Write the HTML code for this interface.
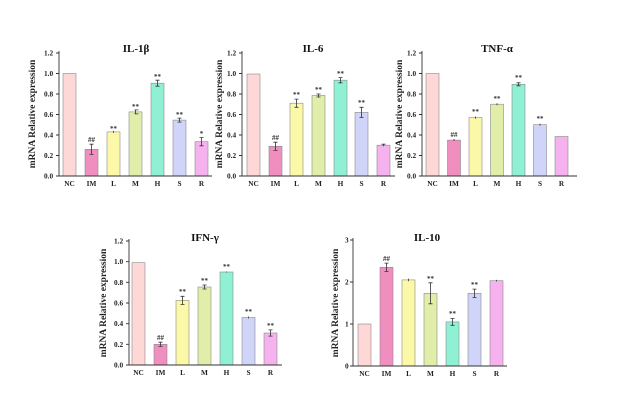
<!DOCTYPE html>
<html><head><meta charset="utf-8"><style>
html,body{margin:0;padding:0;background:#fff;}
svg{display:block;font-family:"Liberation Serif",serif;font-weight:bold;}
.t{font-size:7.3px;fill:#222}
.c{font-size:7.3px;fill:#222;text-anchor:middle}
.ti{font-size:11px;fill:#111;text-anchor:middle}
.yl{font-size:9.5px;fill:#222;text-anchor:middle}
.m{font-size:7px;fill:#333;text-anchor:middle}
.ax{stroke:#333;stroke-width:0.9;fill:none}
.b{stroke:#8a8a8a;stroke-width:0.6}
.e{stroke:#333;stroke-width:0.8}
</style></head><body>
<svg width="624" height="404" viewBox="0 0 624 404">
<!-- Chart 1 IL-1β -->
<text class="ti" x="136" y="52">IL-1β</text>
<text class="yl" transform="translate(35,114) rotate(-90)">mRNA Relative expression</text>
<rect class="b" x="63" y="73.5" width="13" height="102.5" fill="#fdd8d6"/>
<rect class="b" x="85" y="149.3" width="13" height="26.7" fill="#f08ec0"/>
<rect class="b" x="107" y="131.9" width="13" height="44.1" fill="#fbf8a8"/>
<rect class="b" x="129" y="111.9" width="13" height="64.1" fill="#e1eeaa"/>
<rect class="b" x="151" y="83.2" width="13" height="92.8" fill="#8ff0d4"/>
<rect class="b" x="173" y="120.1" width="13" height="55.9" fill="#cfd4f8"/>
<rect class="b" x="195" y="141.7" width="13" height="34.3" fill="#f6b2ee"/>
<path class="e" d="M91.5 144.2V154.4M89.5 144.2h4M89.5 154.4h4M113.5 130.9V132.9M134.5 109.9h4M135.5 109.9V113.9M134.5 113.9h4M157.5 80.2V86.2M155.5 80.2h4M155.5 86.2h4M179.5 118.1V122.1M177.5 118.1h4M177.5 122.1h4M201.5 137.6V145.8M199.5 137.6h4M199.5 145.8h4"/>
<text class="m" x="91.5" y="142">##</text><text class="m" x="113.5" y="131">**</text><text class="m" x="135.5" y="109">**</text><text class="m" x="157.5" y="79">**</text><text class="m" x="179.5" y="117">**</text><text class="m" x="201.5" y="136">*</text>
<path class="ax" d="M59 51V176H212"/>
<path class="ax" d="M56 176h3M56 155.5h3M56 135h3M56 114.5h3M56 94h3M56 73.5h3M56 53h3"/>
<text class="t" x="44" y="178.5">0.0</text><text class="t" x="44" y="158">0.2</text><text class="t" x="44" y="137.5">0.4</text><text class="t" x="44" y="117">0.6</text><text class="t" x="44" y="96.5">0.8</text><text class="t" x="44" y="76">1.0</text><text class="t" x="44" y="55.5">1.2</text>
<text class="c" x="69.5" y="186">NC</text><text class="c" x="91.5" y="186">IM</text><text class="c" x="113.5" y="186">L</text><text class="c" x="135.5" y="186">M</text><text class="c" x="157.5" y="186">H</text><text class="c" x="179.5" y="186">S</text><text class="c" x="201.5" y="186">R</text>

<!-- Chart 2 IL-6 -->
<text class="ti" x="313" y="52">IL-6</text>
<text class="yl" transform="translate(222,114) rotate(-90)">mRNA Relative expression</text>
<rect class="b" x="247" y="74" width="13" height="102" fill="#fdd8d6"/>
<rect class="b" x="269" y="146.3" width="13" height="29.7" fill="#f08ec0"/>
<rect class="b" x="290" y="103.2" width="13" height="72.8" fill="#fbf8a8"/>
<rect class="b" x="312" y="95.5" width="13" height="80.5" fill="#e1eeaa"/>
<rect class="b" x="334" y="80.2" width="13" height="95.8" fill="#8ff0d4"/>
<rect class="b" x="355" y="112.4" width="13" height="63.6" fill="#cfd4f8"/>
<rect class="b" x="377" y="145.2" width="13" height="30.8" fill="#f6b2ee"/>
<path class="e" d="M275.5 142.2V150.4M273.5 142.2h4M273.5 150.4h4M296.5 99.1V107.3M294.5 99.1h4M294.5 107.3h4M318.5 94V97M316.5 94h4M316.5 97h4M340.5 77.6V82.8M338.5 77.6h4M338.5 82.8h4M361.5 107.3V117.5M359.5 107.3h4M359.5 117.5h4M383.5 144.2V146.2M381.5 144.2h4"/>
<text class="m" x="275.5" y="140">##</text><text class="m" x="296.5" y="97">**</text><text class="m" x="318.5" y="92">**</text><text class="m" x="340.5" y="76">**</text><text class="m" x="361.5" y="105">**</text>
<path class="ax" d="M242 51V176H395"/>
<path class="ax" d="M239 176h3M239 155.5h3M239 135h3M239 114.5h3M239 94h3M239 73.5h3M239 53h3"/>
<text class="t" x="227" y="178.5">0.0</text><text class="t" x="227" y="158">0.2</text><text class="t" x="227" y="137.5">0.4</text><text class="t" x="227" y="117">0.6</text><text class="t" x="227" y="96.5">0.8</text><text class="t" x="227" y="76">1.0</text><text class="t" x="227" y="55.5">1.2</text>
<text class="c" x="253.5" y="186">NC</text><text class="c" x="275.5" y="186">IM</text><text class="c" x="296.5" y="186">L</text><text class="c" x="318.5" y="186">M</text><text class="c" x="340.5" y="186">H</text><text class="c" x="361.5" y="186">S</text><text class="c" x="383.5" y="186">R</text>

<!-- Chart 3 TNF-α -->
<text class="ti" x="497" y="52">TNF-α</text>
<text class="yl" transform="translate(402,114) rotate(-90)">mRNA Relative expression</text>
<rect class="b" x="426" y="73.5" width="13" height="102.5" fill="#fdd8d6"/>
<rect class="b" x="447.5" y="140.1" width="13" height="35.9" fill="#f08ec0"/>
<rect class="b" x="469" y="117.6" width="13" height="58.4" fill="#fbf8a8"/>
<rect class="b" x="490.5" y="104.2" width="13" height="71.8" fill="#e1eeaa"/>
<rect class="b" x="512" y="84.3" width="13" height="91.7" fill="#8ff0d4"/>
<rect class="b" x="533.5" y="124.7" width="13" height="51.3" fill="#cfd4f8"/>
<rect class="b" x="555" y="136.5" width="13" height="39.5" fill="#f6b2ee"/>
<path class="e" d="M454 139V141M475.5 116.5V118.7M497 103.2V105.2M518.5 82.8V85.8M516.5 82.8h4M516.5 85.8h4M540 123.7V125.7"/>
<text class="m" x="454" y="137">##</text><text class="m" x="475.5" y="114">**</text><text class="m" x="497" y="101">**</text><text class="m" x="518.5" y="80">**</text><text class="m" x="540" y="121">**</text>
<path class="ax" d="M422 51V176H577"/>
<path class="ax" d="M419 176h3M419 155.5h3M419 135h3M419 114.5h3M419 94h3M419 73.5h3M419 53h3"/>
<text class="t" x="407" y="178.5">0.0</text><text class="t" x="407" y="158">0.2</text><text class="t" x="407" y="137.5">0.4</text><text class="t" x="407" y="117">0.6</text><text class="t" x="407" y="96.5">0.8</text><text class="t" x="407" y="76">1.0</text><text class="t" x="407" y="55.5">1.2</text>
<text class="c" x="432.5" y="186">NC</text><text class="c" x="454" y="186">IM</text><text class="c" x="475.5" y="186">L</text><text class="c" x="497" y="186">M</text><text class="c" x="518.5" y="186">H</text><text class="c" x="540" y="186">S</text><text class="c" x="561.5" y="186">R</text>

<!-- Chart 4 IFN-γ -->
<text class="ti" x="205" y="241">IFN-γ</text>
<text class="yl" transform="translate(106,303) rotate(-90)">mRNA Relative expression</text>
<rect class="b" x="132" y="262.7" width="13" height="102.3" fill="#fdd8d6"/>
<rect class="b" x="154" y="344.3" width="13" height="20.7" fill="#f08ec0"/>
<rect class="b" x="176" y="300.4" width="13" height="64.6" fill="#fbf8a8"/>
<rect class="b" x="198" y="287" width="13" height="78" fill="#e1eeaa"/>
<rect class="b" x="220" y="272" width="13" height="93" fill="#8ff0d4"/>
<rect class="b" x="242" y="317.5" width="13" height="47.5" fill="#cfd4f8"/>
<rect class="b" x="264" y="333" width="13" height="32" fill="#f6b2ee"/>
<path class="e" d="M160.5 342.2V346.4M158.5 342.2h4M158.5 346.4h4M182.5 296.3V304.5M180.5 296.3h4M180.5 304.5h4M204.5 285V289M202.5 285h4M202.5 289h4M226.5 271.5V272.5M248.5 316.5V318.5M270.5 329.9V336.1M268.5 329.9h4M268.5 336.1h4"/>
<text class="m" x="160.5" y="340">##</text><text class="m" x="182.5" y="294">**</text><text class="m" x="204.5" y="283">**</text><text class="m" x="226.5" y="269">**</text><text class="m" x="248.5" y="314">**</text><text class="m" x="270.5" y="328">**</text>
<path class="ax" d="M129 239V365H282"/>
<path class="ax" d="M126 365h3M126 344.3h3M126 323.7h3M126 303h3M126 282.3h3M126 261.7h3M126 241h3"/>
<text class="t" x="114" y="367.5">0.0</text><text class="t" x="114" y="346.8">0.2</text><text class="t" x="114" y="326.2">0.4</text><text class="t" x="114" y="305.5">0.6</text><text class="t" x="114" y="284.8">0.8</text><text class="t" x="114" y="264.2">1.0</text><text class="t" x="114" y="243.5">1.2</text>
<text class="c" x="138.5" y="375">NC</text><text class="c" x="160.5" y="375">IM</text><text class="c" x="182.5" y="375">L</text><text class="c" x="204.5" y="375">M</text><text class="c" x="226.5" y="375">H</text><text class="c" x="248.5" y="375">S</text><text class="c" x="270.5" y="375">R</text>

<!-- Chart 5 IL-10 -->
<text class="ti" x="427" y="241">IL-10</text>
<text class="yl" transform="translate(338,303) rotate(-90)">mRNA Relative expression</text>
<rect class="b" x="358" y="324" width="13" height="42" fill="#fdd8d6"/>
<rect class="b" x="380" y="267.3" width="13" height="98.7" fill="#f08ec0"/>
<rect class="b" x="402" y="279.9" width="13" height="86.1" fill="#fbf8a8"/>
<rect class="b" x="424" y="293.3" width="13" height="72.7" fill="#e1eeaa"/>
<rect class="b" x="446" y="321.9" width="13" height="44.1" fill="#8ff0d4"/>
<rect class="b" x="468" y="293.3" width="13" height="72.7" fill="#cfd4f8"/>
<rect class="b" x="490" y="280.7" width="13" height="85.3" fill="#f6b2ee"/>
<path class="e" d="M386.5 263.1V271.5M384.5 263.1h4M384.5 271.5h4M408.5 278.6V281.2M430.5 282.8V303.8M428.5 282.8h4M428.5 303.8h4M452.5 318.5V325.3M450.5 318.5h4M450.5 325.3h4M474.5 289.1V297.5M472.5 289.1h4M472.5 297.5h4M496.5 279.9V281.5"/>
<text class="m" x="386.5" y="261">##</text><text class="m" x="430.5" y="281">**</text><text class="m" x="452.5" y="316">**</text><text class="m" x="474.5" y="287">**</text>
<path class="ax" d="M353 238V366H507"/>
<path class="ax" d="M350 366h3M350 324h3M350 282h3M350 240h3"/>
<text class="t" x="345" y="368.5">0</text><text class="t" x="345" y="326.5">1</text><text class="t" x="345" y="284.5">2</text><text class="t" x="345" y="242.5">3</text>
<text class="c" x="364.5" y="376">NC</text><text class="c" x="386.5" y="376">IM</text><text class="c" x="408.5" y="376">L</text><text class="c" x="430.5" y="376">M</text><text class="c" x="452.5" y="376">H</text><text class="c" x="474.5" y="376">S</text><text class="c" x="496.5" y="376">R</text>
</svg>
</body></html>
